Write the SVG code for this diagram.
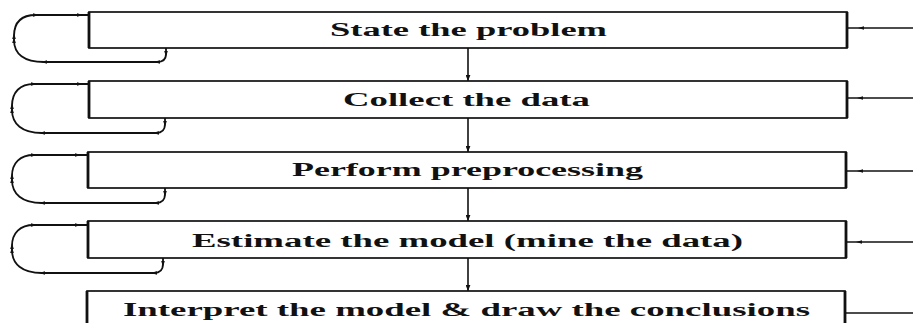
<svg xmlns="http://www.w3.org/2000/svg" width="913" height="323" viewBox="0 0 913 323">
  <style>
    .box { fill: #ffffff; stroke: #111111; stroke-width: 1.7; }
    .side { fill: none; stroke: #111111; stroke-width: 2.8; }
    .lbl { font-family: "Liberation Serif", "Times New Roman", serif; font-weight: bold; font-size: 18px; fill: #111111; }
    .wire { fill: none; stroke: #111111; stroke-width: 1.6; }
    .loop { fill: none; stroke: #111111; stroke-width: 1.8; }
  </style>
  <defs>
    <marker id="tip" viewBox="0 0 10 6" refX="5" refY="3" markerWidth="6" markerHeight="3.6" markerUnits="userSpaceOnUse" orient="auto">
      <path d="M0,0 L10,3 L0,6 Z" fill="#111111"/>
    </marker>
    <marker id="head" viewBox="0 0 10 8" refX="10" refY="4" markerWidth="6" markerHeight="5" markerUnits="userSpaceOnUse" orient="auto">
      <path d="M0,0 L10,4 L0,8 Z" fill="#111111"/>
    </marker>
  </defs>

  <!-- connectors: forward arrows, left return loops, right inputs -->
  <g id="connectors">
    <line class="wire" x1="468" y1="48" x2="468" y2="81" marker-end="url(#head)"/>
    <line class="wire" x1="468" y1="118" x2="468" y2="152" marker-end="url(#head)"/>
    <line class="wire" x1="468" y1="188" x2="468" y2="221" marker-end="url(#head)"/>
    <line class="wire" x1="468" y1="258" x2="468" y2="291" marker-end="url(#head)"/>

    <path class="loop" d="M166 48 V54 C166 59 163 62 157 62 H44 C24 62 14 54 14 40 V36 C14 22 22 15 36 15 H80 L88 15" marker-mid="url(#tip)"/>
    <path class="loop" d="M165 118 V124 C165 130 162 133 156 133 H42 C22 133 12 124 12 110 V106 C12 92 20 84 34 84 H80 L88 84" marker-mid="url(#tip)"/>
    <path class="loop" d="M165 188 V194 C165 200 162 203 156 203 H42 C22 203 12 194 12 180 V176 C12 163 20 155 34 155 H78 L87 155" marker-mid="url(#tip)"/>
    <path class="loop" d="M163 258 V264 C163 270 160 273 154 273 H42 C22 273 12 264 12 250 V246 C12 233 20 225 34 225 H78 L87 225" marker-mid="url(#tip)"/>

    <polyline class="wire" points="913,28 861,28 848,28" marker-mid="url(#tip)"/>
    <polyline class="wire" points="913,98 860,98 847,98" marker-mid="url(#tip)"/>
    <polyline class="wire" points="913,171 860,171 846,171" marker-mid="url(#tip)"/>
    <polyline class="wire" points="913,242 859,242 846,242" marker-mid="url(#tip)"/>
    <line class="wire" x1="913" y1="313" x2="845" y2="313"/>
  </g>

  <g id="state-problem">
    <rect class="box" x="89" y="12" width="758" height="36"/>
    <path class="side" d="M89 12 V48 M847 12 V48"/>
    <text class="lbl" x="330" y="36" textLength="277" lengthAdjust="spacingAndGlyphs">State the problem</text>
  </g>

  <g id="collect-data">
    <rect class="box" x="89" y="81" width="758" height="37"/>
    <path class="side" d="M89 81 V118 M847 81 V118"/>
    <text class="lbl" x="343" y="106" textLength="247" lengthAdjust="spacingAndGlyphs">Collect the data</text>
  </g>

  <g id="preprocessing">
    <rect class="box" x="88" y="152" width="758" height="36"/>
    <path class="side" d="M88 152 V188 M846 152 V188"/>
    <text class="lbl" x="292" y="176" textLength="351" lengthAdjust="spacingAndGlyphs">Perform preprocessing</text>
  </g>

  <g id="estimate-model">
    <rect class="box" x="88" y="221" width="758" height="37"/>
    <path class="side" d="M88 221 V258 M846 221 V258"/>
    <text class="lbl" x="192" y="247" textLength="551" lengthAdjust="spacingAndGlyphs">Estimate the model (mine the data)</text>
  </g>

  <g id="interpret-model">
    <rect class="box" x="87" y="291" width="758" height="40"/>
    <path class="side" d="M87 291 V331 M845 291 V331"/>
    <text class="lbl" x="123" y="316" textLength="687" lengthAdjust="spacingAndGlyphs">Interpret the model &amp; draw the conclusions</text>
  </g>
</svg>
